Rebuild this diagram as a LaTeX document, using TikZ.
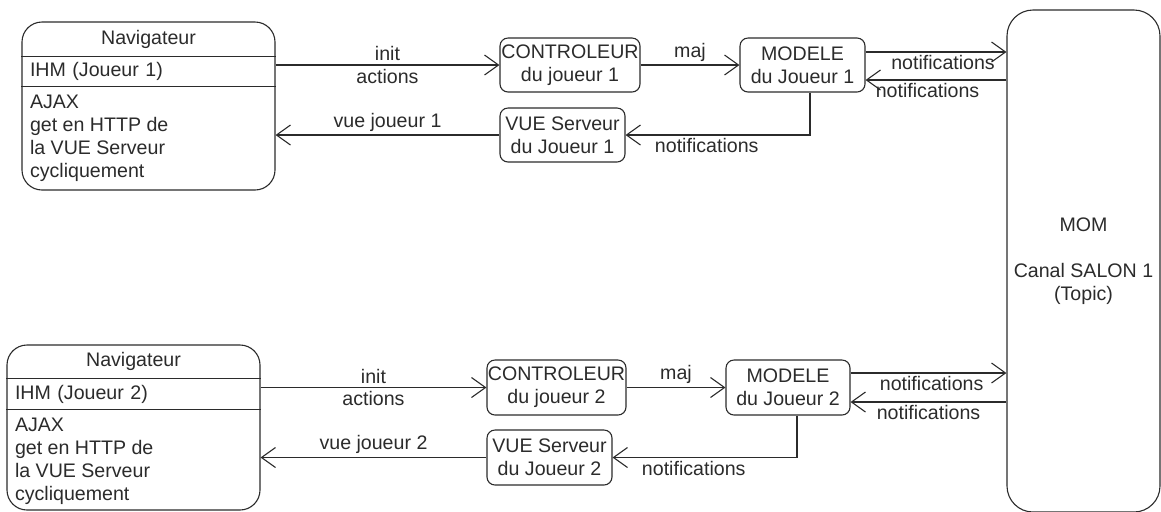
\documentclass[tikz,border=0pt]{standalone}
\usepackage{fontspec}
\setmainfont{Liberation Sans}
\usetikzlibrary{arrows.meta,positioning}

\definecolor{ink}{HTML}{2B2B2B}

\begin{document}
\begin{tikzpicture}[x=0.5pt,y=-0.5pt,line width=0.55pt,draw=ink,text=ink,
  font=\fontsize{9.8}{11.4}\selectfont,
  box/.style={draw,rounded corners=4pt,align=center,inner sep=0pt},
  navbox/.style={draw,rounded corners=10pt,minimum width=126.5pt,inner sep=0pt},
  navpart/.style={anchor=north,minimum width=126.5pt,inner sep=0pt},
  navtext/.style={anchor=north west,align=left,inner xsep=4pt,inner ysep=4pt},
  flow/.style={-{Straight Barb[length=7pt,width=10pt]}},
  lbl/.style={inner sep=1.5pt}]
\useasboundingbox (0,0) rectangle (1161,511);

% MOM
\node[draw,rounded corners=13pt,minimum width=76.5pt,minimum height=251pt,align=center] (mom) at (1083.5,261)
  {MOM\\ \\Canal SALON 1\\(Topic)};

% Joueur 1
\node[navbox,minimum height=84pt] (nav1) at (148.5,106) {};
\node[navpart,minimum height=17pt] (nav1title) at (nav1.north) {Navigateur};
\node[navpart,minimum height=14.5pt,text width=118.5pt,inner xsep=4pt,align=left] (nav1ihm) at (nav1title.south) {IHM (Joueur 1)};
\node[navtext] (nav1ajax) at (nav1ihm.south west) {AJAX\\get en HTTP de\\la VUE Serveur\\cycliquement};
\draw (nav1title.south west) -- (nav1title.south east);
\draw (nav1ihm.south west) -- (nav1ihm.south east);

\node[box,minimum width=70pt,minimum height=27pt] (ctl1) at (570,65) {CONTROLEUR\\du joueur 1};
\node[box,minimum width=62.5pt,minimum height=27pt] (vue1) at (562.5,135) {VUE Serveur\\du Joueur 1};
\node[box,minimum width=62.5pt,minimum height=27pt] (mod1) at (802.5,65) {MODELE\\du Joueur 1};

\coordinate (mod1out) at ([yshift=6.5pt]mod1.east);
\coordinate (mod1in) at ([yshift=-7.5pt]mod1.east);

\draw[flow] (nav1.east |- ctl1) -- node[lbl,align=center] {init\\actions} (ctl1);
\draw[flow] (vue1) -- node[lbl,above] {vue joueur 1} (nav1.east |- vue1);
\draw[flow] (ctl1) -- node[lbl,above] {maj} (mod1);
\draw[flow] (mod1out) -- node[lbl,below,pos=0.55] {notifications} (mod1out -| mom.west);
\draw[flow] (mod1in -| mom.west) -- node[lbl,below,pos=0.56] {notifications} (mod1in);
\draw[flow] ([xshift=3.75pt]mod1.south) |- node[lbl,below,pos=0.78] {notifications} (vue1);

% Joueur 2
\node[navbox,minimum height=82.5pt] (nav2) at (133.5,427.5) {};
\node[navpart,minimum height=16.5pt] (nav2title) at (nav2.north) {Navigateur};
\node[navpart,minimum height=15pt,text width=118.5pt,inner xsep=4pt,align=left] (nav2ihm) at (nav2title.south) {IHM (Joueur 2)};
\node[navtext] (nav2ajax) at (nav2ihm.south west) {AJAX\\get en HTTP de\\la VUE Serveur\\cycliquement};
\draw (nav2title.south west) -- (nav2title.south east);
\draw (nav2ihm.south west) -- (nav2ihm.south east);

\node[box,minimum width=69.5pt,minimum height=27.5pt] (ctl2) at (556.5,387.5) {CONTROLEUR\\du joueur 2};
\node[box,minimum width=62.5pt,minimum height=27.5pt] (vue2) at (549.5,457.5) {VUE Serveur\\du Joueur 2};
\node[box,minimum width=62pt,minimum height=27.5pt] (mod2) at (788,387.5) {MODELE\\du Joueur 2};

\coordinate (mod2out) at ([yshift=7.25pt]mod2.east);
\coordinate (mod2in) at ([yshift=-7.25pt]mod2.east);

\draw[flow] (nav2.east |- ctl2) -- node[lbl,align=center] {init\\actions} (ctl2);
\draw[flow] (vue2) -- node[lbl,above] {vue joueur 2} (nav2.east |- vue2);
\draw[flow] (ctl2) -- node[lbl,above] {maj} (mod2);
\draw[flow] (mod2out) -- node[lbl,below,pos=0.52] {notifications} (mod2out -| mom.west);
\draw[flow] (mod2in -| mom.west) -- node[lbl,below,pos=0.5] {notifications} (mod2in);
\draw[flow] ([xshift=4.5pt]mod2.south) |- node[lbl,below,pos=0.78] {notifications} (vue2);
\end{tikzpicture}
\end{document}
